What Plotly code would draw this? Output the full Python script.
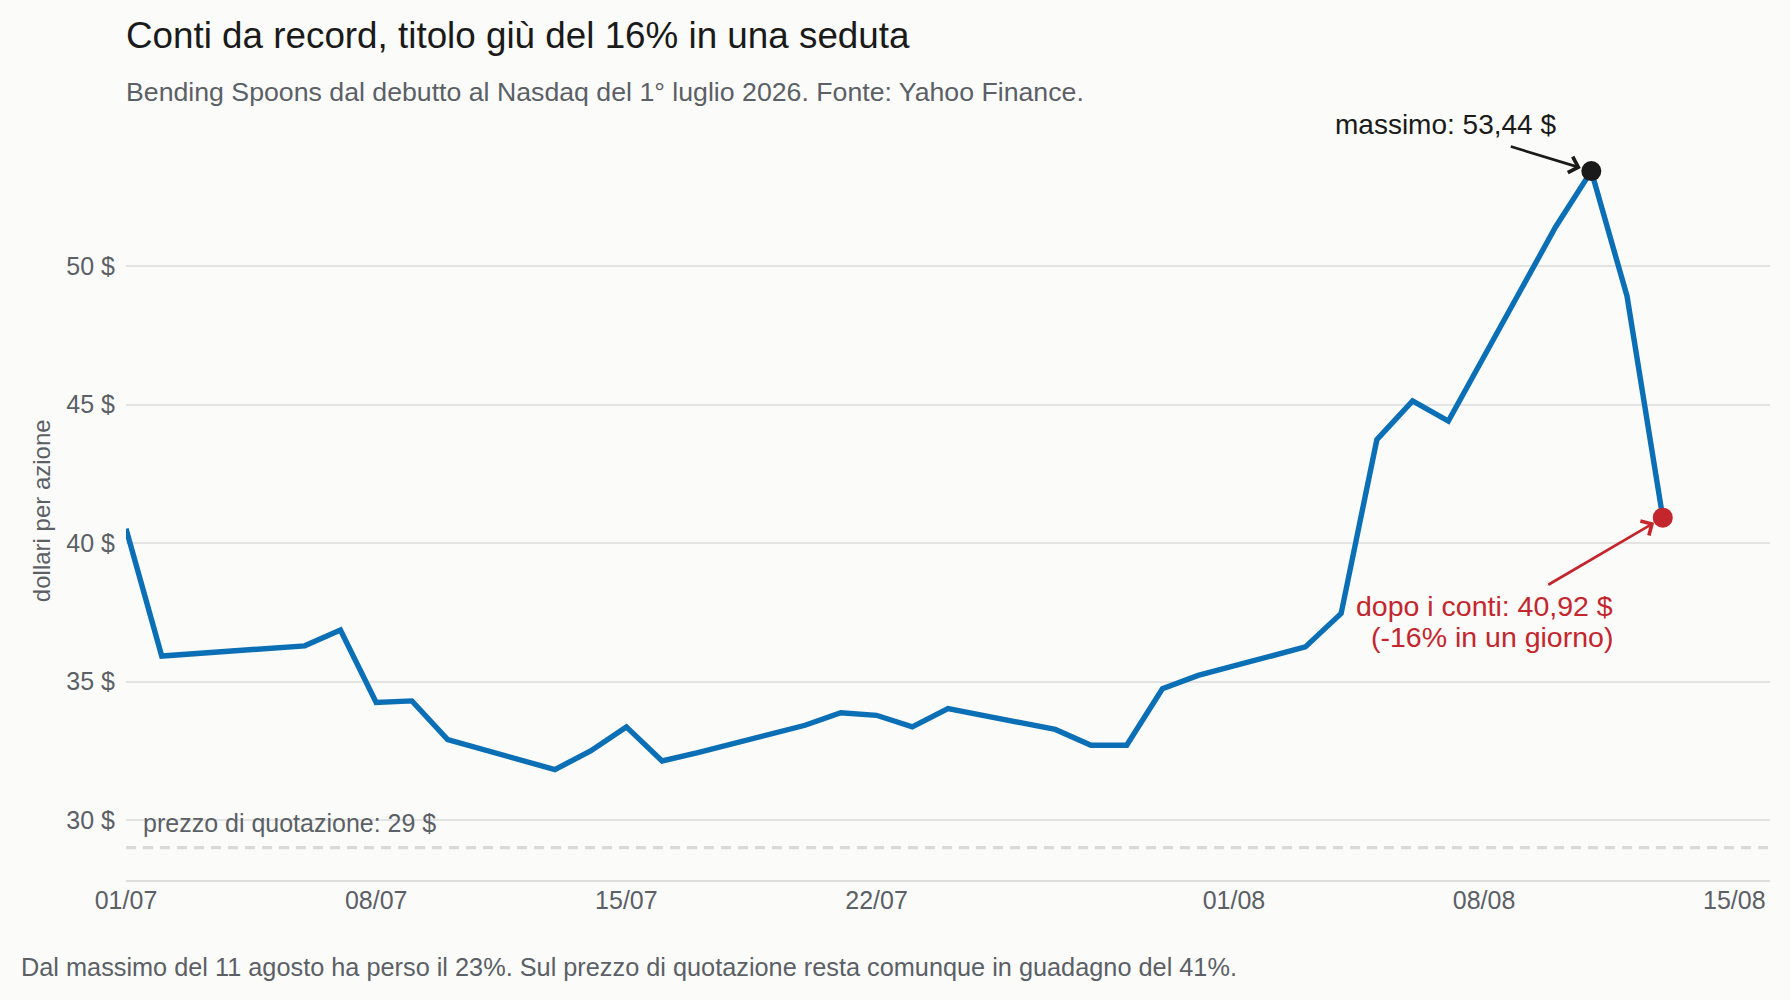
import plotly.graph_objects as go

# Bending Spoons closing prices (USD), trading days from the Nasdaq debut
DATES = [
    "2026-07-01", "2026-07-02", "2026-07-06", "2026-07-07", "2026-07-08",
    "2026-07-09", "2026-07-10", "2026-07-13", "2026-07-14", "2026-07-15",
    "2026-07-16", "2026-07-17", "2026-07-20", "2026-07-21", "2026-07-22",
    "2026-07-23", "2026-07-24", "2026-07-27", "2026-07-28", "2026-07-29",
    "2026-07-30", "2026-07-31", "2026-08-03", "2026-08-04", "2026-08-05",
    "2026-08-06", "2026-08-07", "2026-08-10", "2026-08-11", "2026-08-12",
    "2026-08-13",
]
PRICES = [
    40.52, 35.92, 36.29, 36.86, 34.24,
    34.30, 32.90, 31.82, 32.49, 33.36,
    32.13, 32.43, 33.42, 33.87, 33.78,
    33.36, 34.02, 33.27, 32.70, 32.70,
    34.74, 35.22, 36.25, 37.46, 43.74,
    45.14, 44.41, 51.42, 53.44, 48.92,
    40.92,
]
LISTING_PRICE = 29
TICK_DATES = ["2026-07-01", "2026-07-08", "2026-07-15", "2026-07-22",
              "2026-08-01", "2026-08-08", "2026-08-15"]
Y_TICKS = [30, 35, 40, 45, 50]
Y_TICK_LABELS = [f"{v} $" for v in Y_TICKS]

FONT = "Liberation Sans, Arial, Helvetica, sans-serif"
BLUE = "#0b6fb6"
RED = "#c4262e"
INK = "#1a1a1a"
GREY = "#5b5f66"
BG = "#fbfbf9"

peak_i = max(range(len(PRICES)), key=lambda i: PRICES[i])
last_i = len(PRICES) - 1

fig = go.Figure()
fig.add_trace(go.Scatter(
    x=DATES, y=PRICES, mode="lines",
    line=dict(color=BLUE, width=5.4),
    hoverinfo="x+y", showlegend=False,
))
fig.add_trace(go.Scatter(
    x=[DATES[peak_i]], y=[PRICES[peak_i]], mode="markers",
    marker=dict(color=INK, size=20), showlegend=False,
))
fig.add_trace(go.Scatter(
    x=[DATES[last_i]], y=[PRICES[last_i]], mode="markers",
    marker=dict(color=RED, size=20), showlegend=False,
))

# listing price reference line
fig.add_shape(type="line", xref="paper", x0=0, x1=1, yref="y",
              y0=LISTING_PRICE, y1=LISTING_PRICE,
              line=dict(color="#d9d9d9", width=3.2, dash="10px,7px"), layer="below")


def fmt(v):
    return f"{v:.2f}".replace(".", ",")


drop = (PRICES[last_i] / PRICES[last_i - 1] - 1) * 100

annotations = [
    # subtitle
    dict(text="Bending Spoons dal debutto al Nasdaq del 1° luglio 2026. Fonte: Yahoo Finance.",
         xref="paper", yref="paper", x=0, y=1.0314, xanchor="left", yanchor="middle",
         xshift=-2, showarrow=False, font=dict(size=26.7, color=GREY)),
    # footer
    dict(text="Dal massimo del 11 agosto ha perso il 23%. Sul prezzo di quotazione resta comunque in guadagno del 41%.",
         xref="paper", yref="paper", x=-0.064, y=-0.1135, xanchor="left", yanchor="middle",
         xshift=-2, showarrow=False, font=dict(size=25.3, color=GREY)),
    # y axis title
    dict(text="dollari per azione", xref="paper", yref="paper", x=-0.051, y=0.483,
         textangle=-90, xanchor="center", yanchor="middle", showarrow=False,
         font=dict(size=24, color=GREY)),
    # listing price label
    dict(text=f"prezzo di quotazione: {LISTING_PRICE} $", x=DATES[0], y=LISTING_PRICE,
         xanchor="left", yanchor="middle", xshift=15, yshift=25, showarrow=False,
         font=dict(size=25, color=GREY)),
    # peak label + arrow
    dict(text=f"massimo: {fmt(PRICES[peak_i])} $", x=DATES[peak_i], y=PRICES[peak_i],
         xanchor="right", yanchor="middle", xshift=-33, yshift=47, showarrow=False,
         font=dict(size=28, color=INK)),
    dict(text="", x=DATES[peak_i], y=PRICES[peak_i], showarrow=True, ax=-82, ay=-25,
         arrowhead=4, arrowsize=1.2, arrowwidth=2.7, arrowcolor=INK, standoff=11),
    # last close label + arrow
    dict(text=f"dopo i conti: {fmt(PRICES[last_i])} $", x=DATES[last_i], y=PRICES[last_i],
         xanchor="right", yanchor="middle", xshift=-48, yshift=-88, showarrow=False,
         font=dict(size=28.5, color=RED)),
    dict(text=f"({drop:.0f}% in un giorno)", x=DATES[last_i], y=PRICES[last_i],
         xanchor="right", yanchor="middle", xshift=-48, yshift=-119, showarrow=False,
         font=dict(size=28.5, color=RED)),
    dict(text="", x=DATES[last_i], y=PRICES[last_i], showarrow=True, ax=-116, ay=68,
         arrowhead=4, arrowsize=1.2, arrowwidth=2.7, arrowcolor=RED, standoff=10),
]

fig.update_layout(
    width=1790, height=1000,
    margin=dict(l=126, r=20, t=116, b=120),
    paper_bgcolor=BG, plot_bgcolor=BG,
    font=dict(family=FONT, color=GREY),
    title=dict(text="Conti da record, titolo giù del 16% in una seduta",
               x=126 / 1790, xanchor="left", xref="container",
               y=1 - 35 / 1000, yanchor="middle", yref="container",
               font=dict(size=36.8, color=INK)),
    annotations=annotations,
    showlegend=False,
    hovermode="closest",
)
fig.update_xaxes(
    type="date", range=["2026-07-01", "2026-08-16"],
    tickvals=TICK_DATES, tickformat="%d/%m",
    showgrid=False, zeroline=False,
    showline=True, linecolor="#dedede", linewidth=2,
    ticks="", ticklabelstandoff=-3,
    tickfont=dict(size=25, color=GREY),
)
fig.update_yaxes(
    range=[27.83, 55.43], tickvals=Y_TICKS, ticktext=Y_TICK_LABELS,
    showgrid=True, gridcolor="#e3e3e3", gridwidth=2,
    zeroline=False, showline=False, ticks="", ticklabelstandoff=10,
    tickfont=dict(size=25, color=GREY),
)

# drop the default page margin so the figure sits at the window's corner
fig.write_html(
    "out.html",
    config={"displayModeBar": False},
    post_script="document.body.style.margin='0';document.body.style.background='%s';" % BG,
)
